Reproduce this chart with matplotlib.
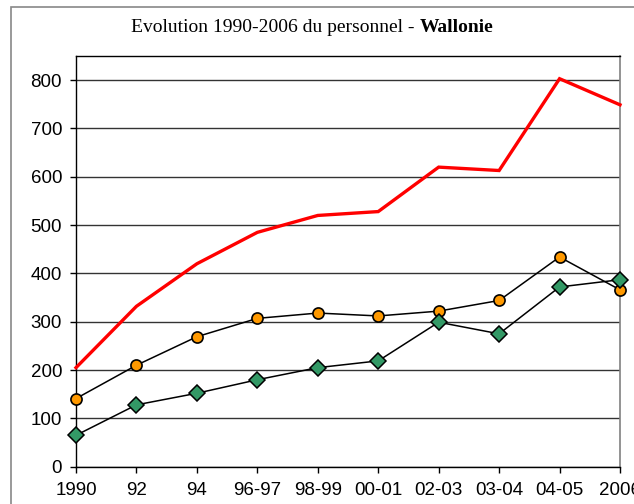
import matplotlib.pyplot as plt
from matplotlib.patches import Rectangle

# data
periods = ['1990', '92', '94', '96-97', '98-99', '00-01', '02-03', '03-04', '04-05', '2006']
total = [205, 332, 420, 485, 520, 528, 620, 613, 803, 749]
orange_series = [141, 210, 269, 307, 318, 312, 322, 344, 434, 366]
green_series = [65, 128, 152, 180, 205, 219, 299, 275, 372, 387]

plt.rcParams['font.family'] = 'Liberation Sans'

fig = plt.figure(figsize=(6.34, 5.04), dpi=100)
ax = fig.add_axes([76 / 634, 1 - 466.7 / 504, (620 - 76) / 634, (466.7 - 56) / 504])

x = list(range(len(periods)))
ax.plot(x, total, color='#ff0000', lw=2.4, solid_joinstyle='miter', zorder=3, clip_on=False)
ax.plot(x, orange_series, color='black', lw=1.1, marker='o', markersize=8,
        markerfacecolor='#ff9900', markeredgecolor='black', markeredgewidth=1.2,
        zorder=4, clip_on=False)
ax.plot(x, green_series, color='black', lw=1.1, marker='D', markersize=8.5,
        markerfacecolor='#339966', markeredgecolor='black', markeredgewidth=1.1,
        zorder=4, clip_on=False)

ax.set_xlim(0, 9)
ax.set_ylim(0, 850)
ax.set_yticks(range(0, 900, 100))
ax.set_xticks(x)
ax.set_xticklabels(periods)
ax.yaxis.grid(True, color='#333333', lw=1.0)
ax.set_axisbelow(True)

ax.tick_params(axis='both', direction='out', length=4, width=1, labelsize=13.5, color='black')
ax.tick_params(axis='y', pad=6)
ax.tick_params(axis='x', pad=7)
for s in ['left', 'bottom', 'top']:
    ax.spines[s].set_color('black')
    ax.spines[s].set_linewidth(1.0)
ax.spines['right'].set_color('#808080')
ax.spines['right'].set_linewidth(1.2)

# outer chart border (cut off at right and bottom)
fig.patches.append(Rectangle((11 / 634, -0.1), 1.2, 1.1 - 7 / 504, transform=fig.transFigure,
                             fill=False, edgecolor='#888888', lw=1.2))

# title: normal part followed by bold region name
t1 = fig.text(131 / 634, 1 - 32 / 504, 'Evolution 1990-2006 du personnel - ',
              family='Liberation Serif', fontsize=14, ha='left', va='baseline')
ax.annotate('Wallonie', xy=(1, 0), xycoords=t1, xytext=(0, 0), textcoords='offset points',
            family='Liberation Serif', fontweight='bold', fontsize=14,
            ha='left', va='bottom', annotation_clip=False)

fig.savefig('out.png', dpi=100)
